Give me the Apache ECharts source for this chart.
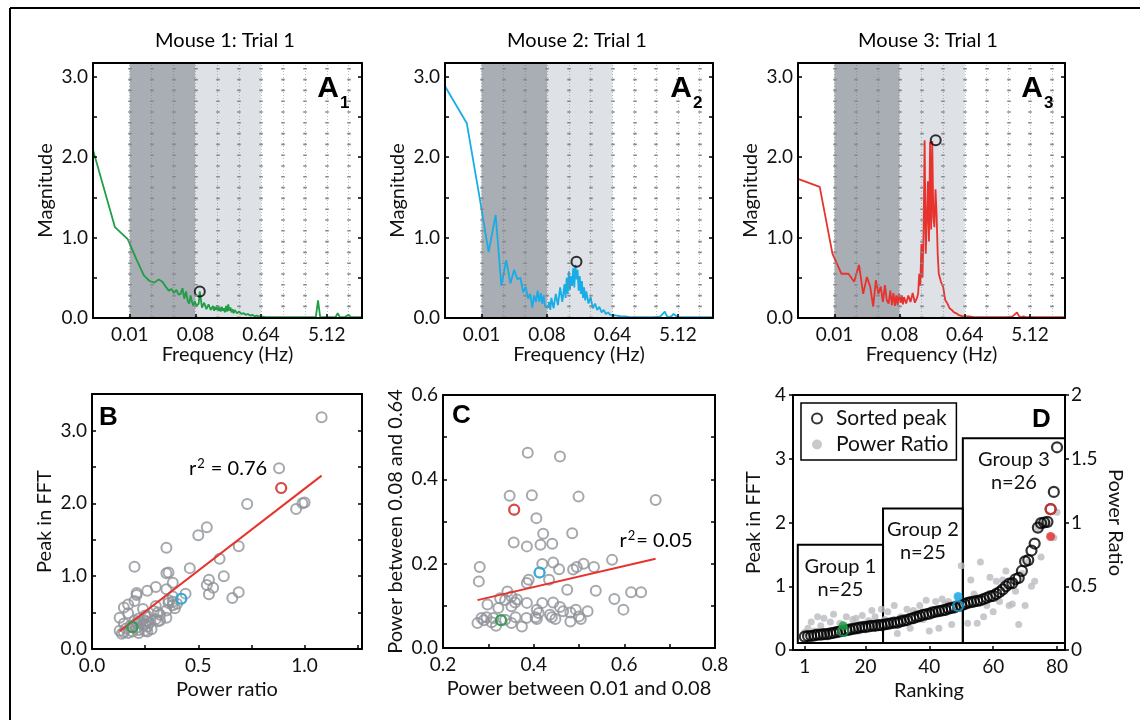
<!DOCTYPE html>
<html>
<head>
<meta charset="utf-8">
<script src="https://cdn.jsdelivr.net/npm/echarts@6/dist/echarts.min.js"></script>
<style>
  html, body { margin: 0; padding: 0; background: #fff; }
  #chart { width: 1140px; height: 720px; }
</style>
</head>
<body>
<div id="chart"></div>
<script>
// ---- spectra (panel A): shared frequency bins in Hz ----
const freqHz = [
  0.003125, 0.00625, 0.009375, 0.0125, 0.015625, 0.01875, 0.021875, 0.025, 0.028125, 0.03125,
  0.034375, 0.0375, 0.040625, 0.04375, 0.046875, 0.05, 0.053125, 0.05625, 0.059375, 0.0625,
  0.065625, 0.06875, 0.071875, 0.075, 0.078125,
  0.0828, 0.0857, 0.0888, 0.0919, 0.0985, 0.1056, 0.1131, 0.1213, 0.1300, 0.1393,
  0.1442, 0.1493, 0.1546, 0.1600, 0.1656, 0.1715, 0.1775, 0.1838, 0.1903, 0.1970,
  0.2039, 0.2111, 0.2186, 0.2263, 0.2343, 0.2425, 0.2511, 0.2599, 0.2691, 0.2786,
  0.2986, 0.3200, 0.3430, 0.3676, 0.3940, 0.4222, 0.4526, 0.4850, 0.5198, 0.5572, 0.5971, 0.6400,
  0.7352, 0.8445, 0.9701, 1.1143, 1.2800,
  1.5759, 1.9401, 2.3886, 2.9407,
  3.3779, 3.6204, 3.8802, 4.1587, 4.4572,
  5.1200, 5.8813, 6.7558, 7.2408, 7.7604, 8.9144,
  10.240, 10.975, 11.763, 13.512, 15.521
];
const magMouse1 = [
  2.09, 1.13, 0.98, 0.72, 0.53, 0.46, 0.44, 0.48, 0.45, 0.39,
  0.34, 0.36, 0.31, 0.35, 0.29, 0.30, 0.37, 0.24, 0.33, 0.22,
  0.18, 0.28, 0.20, 0.15, 0.21,
  0.15, 0.13, 0.18, 0.33, 0.13, 0.19, 0.11, 0.17, 0.10, 0.15,
  0.09, 0.14, 0.10, 0.16, 0.09, 0.13, 0.08, 0.14, 0.09, 0.12,
  0.07, 0.15, 0.08, 0.17, 0.09, 0.13, 0.07, 0.11, 0.06, 0.10,
  0.06, 0.08, 0.05, 0.06, 0.04, 0.05, 0.03, 0.04, 0.02, 0.03, 0.02, 0.02,
  0.01, 0.01, 0.01, 0.01, 0.01,
  0.01, 0.01, 0.01, 0.01,
  0.01, 0.01, 0.22, 0.01, 0.01,
  0.01, 0.01, 0.01, 0.06, 0.01, 0.01,
  0.04, 0.01, 0.01, 0.01, 0.01
];
const magMouse2 = [
  2.88, 2.42, 1.50, 0.82, 1.28, 0.40, 0.72, 0.43, 0.60, 0.48,
  0.50, 0.32, 0.39, 0.24, 0.30, 0.13, 0.28, 0.20, 0.34, 0.20,
  0.31, 0.18, 0.28, 0.14, 0.12,
  0.13, 0.20, 0.10, 0.25, 0.12, 0.30, 0.16, 0.38, 0.20, 0.42,
  0.25, 0.50, 0.30, 0.58, 0.35, 0.52, 0.40, 0.62, 0.38, 0.66,
  0.48, 0.60, 0.34, 0.52, 0.30, 0.46, 0.25, 0.38, 0.22, 0.33,
  0.18, 0.26, 0.12, 0.18, 0.10, 0.14, 0.07, 0.10, 0.05, 0.07, 0.04, 0.04,
  0.03, 0.02, 0.02, 0.01, 0.01,
  0.01, 0.01, 0.01, 0.02,
  0.08, 0.02, 0.01, 0.02, 0.05,
  0.01, 0.01, 0.01, 0.01, 0.01, 0.01,
  0.01, 0.01, 0.01, 0.01, 0.01
];
const magMouse3 = [
  1.73, 1.63, 0.80, 0.55, 0.55, 0.45, 0.66, 0.30, 0.51, 0.39,
  0.14, 0.47, 0.30, 0.39, 0.20, 0.41, 0.22, 0.18, 0.34, 0.16,
  0.31, 0.15, 0.28, 0.16, 0.30,
  0.19, 0.28, 0.17, 0.26, 0.18, 0.28, 0.20, 0.31, 0.19, 0.25,
  0.30, 0.55, 0.40, 0.92, 0.50, 1.05, 2.21, 0.80, 1.20, 1.70,
  0.95, 2.19, 1.10, 2.20, 1.25, 1.13, 1.60, 1.30, 0.80, 0.55,
  0.45, 0.39, 0.22, 0.18, 0.12, 0.10, 0.07, 0.06, 0.04, 0.03, 0.02, 0.02,
  0.02, 0.01, 0.01, 0.01, 0.01,
  0.01, 0.01, 0.01, 0.02,
  0.07, 0.02, 0.01, 0.02, 0.01,
  0.01, 0.01, 0.01, 0.01, 0.01, 0.01,
  0.01, 0.01, 0.01, 0.01, 0.01
];
const spectra = [magMouse1, magMouse2, magMouse3];
const peakFreqHz = [0.0919, 0.2039, 0.2528];
const peakMag = [0.33, 0.70, 2.21];
const mouseTitles = ['Mouse 1: Trial 1', 'Mouse 2: Trial 1', 'Mouse 3: Trial 1'];
const freqTickHz = [0.01, 0.08, 0.64, 5.12];
const freqGuideHz = [0.01, 0.02, 0.04, 0.08, 0.16, 0.32, 0.64, 1.28, 2.56, 5.12, 10.24];
const freqRangeHz = [0.003125, 15.625];
const bandSlowHz = [0.01, 0.08];
const bandFastHz = [0.08, 0.64];
const magMax = 3.17;

// ---- all trials, sorted by FFT peak (panels B and D) ----
const peakSorted = [
  0.21, 0.22, 0.22, 0.23, 0.24, 0.24, 0.25, 0.25, 0.26, 0.27,
  0.28, 0.29, 0.30, 0.31, 0.32, 0.33, 0.34, 0.35, 0.36, 0.36,
  0.37, 0.38, 0.38, 0.39, 0.39, 0.40, 0.41, 0.42, 0.43, 0.43,
  0.45, 0.46, 0.47, 0.49, 0.50, 0.52, 0.53, 0.55, 0.56, 0.57,
  0.59, 0.60, 0.61, 0.62, 0.63, 0.65, 0.66, 0.67, 0.69, 0.70,
  0.72, 0.74, 0.75, 0.76, 0.77, 0.78, 0.80, 0.82, 0.84, 0.85,
  0.88, 0.91, 0.95, 1.00, 1.04, 1.05, 1.11, 1.13, 1.24, 1.39,
  1.41, 1.56, 1.67, 1.92, 1.99, 2.00, 2.01, 2.21, 2.48, 3.18
];
const powerRatio = [
  0.14, 0.17, 0.22, 0.15, 0.26, 0.19, 0.25, 0.13, 0.22, 0.28,
  0.16, 0.21, 0.19, 0.26, 0.18, 0.24, 0.25, 0.15, 0.27, 0.21,
  0.23, 0.31, 0.26, 0.20, 0.32, 0.24, 0.30, 0.22, 0.35, 0.13,
  0.26, 0.25, 0.32, 0.17, 0.31, 0.29, 0.35, 0.24, 0.39, 0.15,
  0.30, 0.38, 0.17, 0.40, 0.36, 0.38, 0.20, 0.36, 0.42, 0.66,
  0.38, 0.21, 0.55, 0.44, 0.21, 0.69, 0.26, 0.35, 0.57, 0.30,
  0.54, 0.38, 0.55, 0.62, 0.35, 0.36, 0.46, 0.20, 0.60, 0.35,
  0.69, 0.50, 0.54, 0.96, 0.73, 0.99, 1.00, 0.89, 0.88, 1.08
];
const mouseRank = [13, 49, 78];
const fitB = { slope: 2.25, intercept: -0.05, r2: '0.76' };

// ---- panel C ----
const powerSlow = [
  0.387, 0.458, 0.347, 0.396, 0.499, 0.669, 0.357, 0.406, 0.421, 0.485,
  0.356, 0.385, 0.415, 0.441, 0.419, 0.443, 0.456, 0.487, 0.495, 0.510,
  0.533, 0.573, 0.413, 0.389, 0.434, 0.281, 0.279, 0.474, 0.537, 0.615,
  0.637, 0.578, 0.598, 0.519, 0.493, 0.481, 0.458, 0.443, 0.419, 0.385,
  0.359, 0.337, 0.326, 0.342, 0.351, 0.298, 0.322, 0.351, 0.407, 0.411,
  0.436, 0.440, 0.448, 0.465, 0.500, 0.504, 0.276, 0.285, 0.296, 0.328,
  0.307, 0.317, 0.337, 0.351, 0.360, 0.374, 0.384, 0.404, 0.407, 0.311,
  0.363, 0.481, 0.385, 0.290
];
const powerFast = [
  0.463, 0.454, 0.361, 0.362, 0.359, 0.351, 0.328, 0.308, 0.271, 0.272,
  0.250, 0.241, 0.245, 0.247, 0.199, 0.203, 0.187, 0.186, 0.192, 0.200,
  0.192, 0.209, 0.179, 0.162, 0.162, 0.192, 0.158, 0.138, 0.136, 0.132,
  0.132, 0.116, 0.091, 0.087, 0.091, 0.084, 0.097, 0.108, 0.107, 0.107,
  0.108, 0.114, 0.118, 0.134, 0.122, 0.103, 0.095, 0.099, 0.091, 0.083,
  0.079, 0.073, 0.069, 0.087, 0.075, 0.069, 0.059, 0.071, 0.073, 0.066,
  0.061, 0.053, 0.067, 0.059, 0.073, 0.051, 0.071, 0.073, 0.069, 0.071,
  0.115, 0.063, 0.154, 0.066
];
const mouseIdxC = [59, 22, 6];
const fitC = { slope: 0.25, intercept: 0.0445, r2: '0.05' };

// ---- panel D annotations ----
const rankTicks = [1, 20, 40, 60, 80];
const groupNames = ['Group 1', 'Group 2', 'Group 3'];
const groupN = [25, 25, 26];
const groupStart = [-1.2, 25.5, 50.5];
const groupEnd = [25.5, 50.5, 82.5];
const groupTop = [1.65, 2.22, 3.32];
const groupBase = 0.11;

// ---- styles ----
const FONT = 'Lato';
const BLACK = '#000';
const mouseColors = ['#1f9e45', '#18ade6', '#e8322e'];
const grayRing = '#8e9297';
const grayDot = '#b9bcc0';
const bandDark = '#a9adb4';
const bandLight = '#dee1e5';
const CLEAR = 'rgba(0,0,0,0)';

const toU = f => Math.log2(f / 0.01);
const isWhole = (v, step) => Math.abs(v / step - Math.round(v / step)) < 1e-6;

const axisLine = { show: true, onZero: false, lineStyle: { color: BLACK, width: 2 } };
const tick = (inside) => ({ show: true, inside: inside, length: 4, lineStyle: { color: BLACK, width: 1.5 } });
const labelStyle = { color: '#111', fontFamily: FONT, fontSize: 19 };
const nameStyle = { color: '#111', fontFamily: FONT, fontSize: 20 };

const grids = [
  { left: 93, top: 63, width: 269, height: 255 },
  { left: 445, top: 63, width: 268, height: 255 },
  { left: 798, top: 63, width: 267, height: 255 },
  { left: 92, top: 394, width: 270, height: 255 },
  { left: 443, top: 395, width: 272, height: 253 },
  { left: 793, top: 395, width: 272, height: 255 }
].map(g => Object.assign({ show: false, outerBoundsMode: 'none' }, g));

const xAxes = [];
const yAxes = [];
const series = [];

function mirrorX(gi, min, max) {
  xAxes.push({ type: 'value', gridIndex: gi, position: 'top', min, max, z: 10,
    axisLine, axisTick: { show: false }, axisLabel: { show: false }, splitLine: { show: false } });
}
function mirrorY(gi, min, max, interval) {
  yAxes.push({ type: 'value', gridIndex: gi, position: 'right', min, max, interval, z: 10,
    axisLine, axisTick: tick(true), axisLabel: { show: false }, splitLine: { show: false } });
}

// ---- panels A1..A3 ----
const uMin = toU(freqRangeHz[0]);
const uMax = toU(freqRangeHz[1]);
const tickU = freqTickHz.map(toU);

spectra.forEach((mag, i) => {
  const xi = xAxes.length;
  xAxes.push({
    type: 'value', gridIndex: i, position: 'bottom', min: uMin, max: uMax, z: 10,
    axisLine, axisTick: Object.assign(tick(true), { customValues: tickU }),
    axisLabel: Object.assign({}, labelStyle, { margin: 7, customValues: tickU,
      formatter: v => (0.01 * Math.pow(2, v)).toFixed(2) }),
    splitLine: { show: false },
    name: 'Frequency (Hz)', nameLocation: 'middle', nameGap: 27, nameTextStyle: nameStyle
  });
  mirrorX(i, uMin, uMax);
  const yi = yAxes.length;
  yAxes.push({
    type: 'value', gridIndex: i, position: 'left', min: 0, max: magMax, interval: 0.5, z: 10,
    axisLine, axisTick: tick(true),
    axisLabel: Object.assign({}, labelStyle, { margin: 5,
      formatter: v => isWhole(v, 1) ? v.toFixed(1) : '' }),
    splitLine: { show: false },
    name: 'Magnitude', nameLocation: 'middle', nameGap: 37, nameTextStyle: nameStyle
  });
  mirrorY(i, 0, magMax, 0.5);

  const pts = freqHz.map((f, k) => [toU(f), mag[k]]);
  // frequency bands + faint dotted guides
  series.push({
    type: 'line', xAxisIndex: xi, yAxisIndex: yi, data: pts, symbol: 'none', silent: true, z: 1,
    lineStyle: { opacity: 0 },
    markArea: { silent: true, data: [
      [{ xAxis: toU(bandSlowHz[0]), itemStyle: { color: bandDark } }, { xAxis: toU(bandSlowHz[1]) }],
      [{ xAxis: toU(bandFastHz[0]), itemStyle: { color: bandLight } }, { xAxis: toU(bandFastHz[1]) }]
    ] },
    markLine: { silent: true, symbol: ['none', 'none'], label: { show: false },
      lineStyle: { color: 'rgba(110,110,110,0.45)', width: 1, type: [1, 2] },
      data: freqGuideHz.map(f => ({ xAxis: toU(f) })) }
  });
  // dash marks along the octave guides
  series.push({
    type: 'line', xAxisIndex: xi, yAxisIndex: yi, data: pts, symbol: 'none', silent: true, z: 2,
    lineStyle: { opacity: 0 },
    markLine: { silent: true, symbol: ['none', 'none'], label: { show: false },
      lineStyle: { color: '#85888d', width: 3.5, type: [1.6, 9.2] },
      data: freqGuideHz.map(f => ({ xAxis: toU(f) })) }
  });
  series.push({
    type: 'line', xAxisIndex: xi, yAxisIndex: yi, data: pts, symbol: 'none', z: 3,
    lineStyle: { color: mouseColors[i], width: 1.8 }
  });
  series.push({
    type: 'scatter', xAxisIndex: xi, yAxisIndex: yi, z: 4,
    data: [[toU(peakFreqHz[i]), peakMag[i]]], symbol: 'circle', symbolSize: 10,
    itemStyle: { color: CLEAR, borderColor: BLACK, borderWidth: 2 }
  });
});

// ---- panel B ----
{
  const xi = xAxes.length;
  xAxes.push({
    type: 'value', gridIndex: 3, position: 'bottom', min: 0, max: 1.27, interval: 0.25, z: 10,
    axisLine, axisTick: tick(true),
    axisLabel: Object.assign({}, labelStyle, { margin: 7, formatter: v => isWhole(v, 0.5) ? v.toFixed(1) : '' }),
    splitLine: { show: false },
    name: 'Power ratio', nameLocation: 'middle', nameGap: 31, nameTextStyle: nameStyle
  });
  mirrorX(3, 0, 1.27);
  const yi = yAxes.length;
  yAxes.push({
    type: 'value', gridIndex: 3, position: 'left', min: 0, max: 3.5, interval: 0.5, z: 10,
    axisLine, axisTick: tick(true),
    axisLabel: Object.assign({}, labelStyle, { margin: 5, formatter: v => isWhole(v, 1) ? v.toFixed(1) : '' }),
    splitLine: { show: false },
    name: 'Peak in FFT', nameLocation: 'middle', nameGap: 37, nameTextStyle: nameStyle
  });
  mirrorY(3, 0, 3.5, 0.5);

  series.push({
    type: 'scatter', xAxisIndex: xi, yAxisIndex: yi, z: 2, symbol: 'circle', symbolSize: 10,
    data: powerRatio.map((r, k) => [r, peakSorted[k]]),
    itemStyle: { color: CLEAR, borderColor: grayRing, borderWidth: 2 }
  });
  const xs = [Math.min(...powerRatio), Math.max(...powerRatio)];
  series.push({
    type: 'line', xAxisIndex: xi, yAxisIndex: yi, z: 3, symbol: 'none',
    data: xs.map(x => [x, fitB.slope * x + fitB.intercept]),
    lineStyle: { color: mouseColors[2], width: 2 }
  });
  series.push({
    type: 'scatter', xAxisIndex: xi, yAxisIndex: yi, z: 4, symbol: 'circle', symbolSize: 10,
    data: mouseRank.map((r, m) => ({ value: [powerRatio[r - 1], peakSorted[r - 1]],
      itemStyle: { color: CLEAR, borderColor: mouseColors[m], borderWidth: 2.2 } }))
  });
}

// ---- panel C ----
{
  const xi = xAxes.length;
  xAxes.push({
    type: 'value', gridIndex: 4, position: 'bottom', min: 0.2, max: 0.8, interval: 0.1, z: 10,
    axisLine, axisTick: tick(true),
    axisLabel: Object.assign({}, labelStyle, { margin: 7, formatter: v => isWhole(v, 0.2) ? v.toFixed(1) : '' }),
    splitLine: { show: false },
    name: 'Power between 0.01 and 0.08', nameLocation: 'middle', nameGap: 31, nameTextStyle: nameStyle
  });
  mirrorX(4, 0.2, 0.8);
  const yi = yAxes.length;
  yAxes.push({
    type: 'value', gridIndex: 4, position: 'left', min: 0, max: 0.6, interval: 0.1, z: 10,
    axisLine, axisTick: tick(true),
    axisLabel: Object.assign({}, labelStyle, { margin: 5, formatter: v => isWhole(v, 0.2) ? v.toFixed(1) : '' }),
    splitLine: { show: false },
    name: 'Power between 0.08 and 0.64', nameLocation: 'middle', nameGap: 37, nameTextStyle: nameStyle
  });
  mirrorY(4, 0, 0.6, 0.1);

  series.push({
    type: 'scatter', xAxisIndex: xi, yAxisIndex: yi, z: 2, symbol: 'circle', symbolSize: 10,
    data: powerSlow.map((x, k) => [x, powerFast[k]]),
    itemStyle: { color: CLEAR, borderColor: grayRing, borderWidth: 2 }
  });
  const xs = [Math.min(...powerSlow), Math.max(...powerSlow)];
  series.push({
    type: 'line', xAxisIndex: xi, yAxisIndex: yi, z: 3, symbol: 'none',
    data: xs.map(x => [x, fitC.slope * x + fitC.intercept]),
    lineStyle: { color: mouseColors[2], width: 2 }
  });
  series.push({
    type: 'scatter', xAxisIndex: xi, yAxisIndex: yi, z: 4, symbol: 'circle', symbolSize: 10,
    data: mouseIdxC.map((k, m) => ({ value: [powerSlow[k], powerFast[k]],
      itemStyle: { color: CLEAR, borderColor: mouseColors[m], borderWidth: 2.2 } }))
  });
}

// ---- panel D ----
{
  const xi = xAxes.length;
  xAxes.push({
    type: 'value', gridIndex: 5, position: 'bottom', min: -2.7, max: 82.5, z: 10,
    axisLine, axisTick: Object.assign(tick(true), { customValues: rankTicks }),
    axisLabel: Object.assign({}, labelStyle, { margin: 7, customValues: rankTicks, formatter: v => String(v) }),
    splitLine: { show: false },
    name: 'Ranking', nameLocation: 'middle', nameGap: 31, nameTextStyle: nameStyle
  });
  mirrorX(5, -2.7, 82.5);
  const yl = yAxes.length;
  yAxes.push({
    type: 'value', gridIndex: 5, position: 'left', min: 0, max: 4, interval: 1, z: 10,
    axisLine, axisTick: tick(false),
    axisLabel: Object.assign({}, labelStyle, { margin: 7, formatter: v => String(v) }),
    splitLine: { show: false },
    name: 'Peak in FFT', nameLocation: 'middle', nameGap: 29, nameTextStyle: nameStyle
  });
  const yr = yAxes.length;
  yAxes.push({
    type: 'value', gridIndex: 5, position: 'right', min: 0, max: 2, interval: 0.5, z: 10,
    axisLine, axisTick: tick(false),
    axisLabel: Object.assign({}, labelStyle, { margin: 6, formatter: v => String(v) }),
    splitLine: { show: false },
    name: 'Power Ratio', nameLocation: 'middle', nameRotate: -90, nameGap: 40, nameTextStyle: nameStyle
  });

  const ranks = peakSorted.map((p, k) => k + 1);
  series.push({
    type: 'line', xAxisIndex: xi, yAxisIndex: yl, z: 1, silent: true, symbol: 'none',
    data: ranks.map((r, k) => [r, peakSorted[k]]), lineStyle: { opacity: 0 },
    markArea: {
      silent: true,
      label: { show: true, position: 'insideTop', distance: 11, color: '#111',
        fontFamily: FONT, fontSize: 20, lineHeight: 23, formatter: '{b}' },
      data: groupNames.map((g, k) => [
        { name: g + '\nn=' + groupN[k], xAxis: groupStart[k], yAxis: groupBase,
          itemStyle: { color: CLEAR, borderColor: BLACK, borderWidth: 2 } },
        { xAxis: groupEnd[k], yAxis: groupTop[k] }
      ])
    }
  });
  series.push({
    name: 'Power Ratio', type: 'scatter', xAxisIndex: xi, yAxisIndex: yr, z: 2,
    symbol: 'circle', symbolSize: 7,
    data: ranks.map((r, k) => [r, powerRatio[k]]),
    itemStyle: { color: grayDot }
  });
  series.push({
    name: 'Sorted peak', type: 'scatter', xAxisIndex: xi, yAxisIndex: yl, z: 3,
    symbol: 'circle', symbolSize: 10,
    data: ranks.map((r, k) => [r, peakSorted[k]]),
    itemStyle: { color: CLEAR, borderColor: BLACK, borderWidth: 2.2 }
  });
  series.push({
    type: 'scatter', xAxisIndex: xi, yAxisIndex: yr, z: 4, symbol: 'circle', symbolSize: 9,
    data: mouseRank.map((r, m) => ({ value: [r, powerRatio[r - 1]], itemStyle: { color: mouseColors[m] } }))
  });
  series.push({
    type: 'scatter', xAxisIndex: xi, yAxisIndex: yl, z: 5, symbol: 'circle', symbolSize: 10,
    data: mouseRank.map((r, m) => ({ value: [r, peakSorted[r - 1]],
      itemStyle: { color: CLEAR, borderColor: mouseColors[m], borderWidth: 2.2 } }))
  });
}

// ---- text annotations ----
const txt = (text, x, y, size, align, weight, family) => ({
  type: 'text', x, y, z: 100, silent: true,
  style: { text, fill: '#000', fontSize: size, fontWeight: weight || 'normal',
    fontFamily: family || FONT, textAlign: align, align: align,
    textVerticalAlign: 'middle', verticalAlign: 'middle' }
});
// r² label with a real superscript
const r2txt = (val, gap, x, y) => ({
  type: 'text', x, y, z: 100, silent: true,
  style: {
    text: '{n|r}{s|2}{n|' + gap + '= ' + val + '}',
    fill: '#000', fontFamily: FONT, fontSize: 20,
    textAlign: 'center', align: 'center', textVerticalAlign: 'middle', verticalAlign: 'middle',
    rich: {
      n: { fontFamily: FONT, fontSize: 20, lineHeight: 24 },
      s: { fontFamily: FONT, fontSize: 13, lineHeight: 24, verticalAlign: 'top', padding: [0, 1, 9, 1] }
    }
  }
});
const titleX = [225, 577, 928];
const letterX = [339, 692, 1043];
const elements = [
  { type: 'line', silent: true, shape: { x1: 10, y1: 8, x2: 1140, y2: 8 }, style: { stroke: BLACK, lineWidth: 2 } },
  { type: 'line', silent: true, shape: { x1: 10, y1: 8, x2: 10, y2: 720 }, style: { stroke: BLACK, lineWidth: 2 } }
];
mouseTitles.forEach((t, i) => {
  elements.push(txt(t, titleX[i], 41, 20, 'center'));
  elements.push(txt('A', letterX[i], 89, 30, 'right', 'bold', 'Liberation Sans'));
  elements.push(txt(String(i + 1), letterX[i] + 1, 103, 17, 'left', 'bold', 'Liberation Sans'));
});
elements.push(txt('B', 99, 418, 26, 'left', 'bold', 'Liberation Sans'));
elements.push(txt('C', 452, 416, 26, 'left', 'bold', 'Liberation Sans'));
elements.push(txt('D', 1032, 420, 26, 'left', 'bold', 'Liberation Sans'));
elements.push(r2txt(fitB.r2, ' ', 228, 469));
elements.push(r2txt(fitC.r2, '', 656, 541));

const option = {
  animation: false,
  backgroundColor: '#fff',
  grid: grids,
  xAxis: xAxes,
  yAxis: yAxes,
  legend: {
    data: ['Sorted peak', 'Power Ratio'],
    selectedMode: false,
    orient: 'vertical',
    left: 801, top: 403,
    padding: [5, 8, 5, 10],
    itemGap: 5,
    itemWidth: 28, itemHeight: 10,
    backgroundColor: '#fff',
    borderColor: BLACK, borderWidth: 1.5,
    textStyle: { color: '#111', fontFamily: FONT, fontSize: 21 }
  },
  graphic: { elements },
  series
};

const chart = echarts.init(document.getElementById('chart'));
chart.setOption(option);
window.addEventListener('resize', () => chart.resize());
</script>
</body>
</html>
